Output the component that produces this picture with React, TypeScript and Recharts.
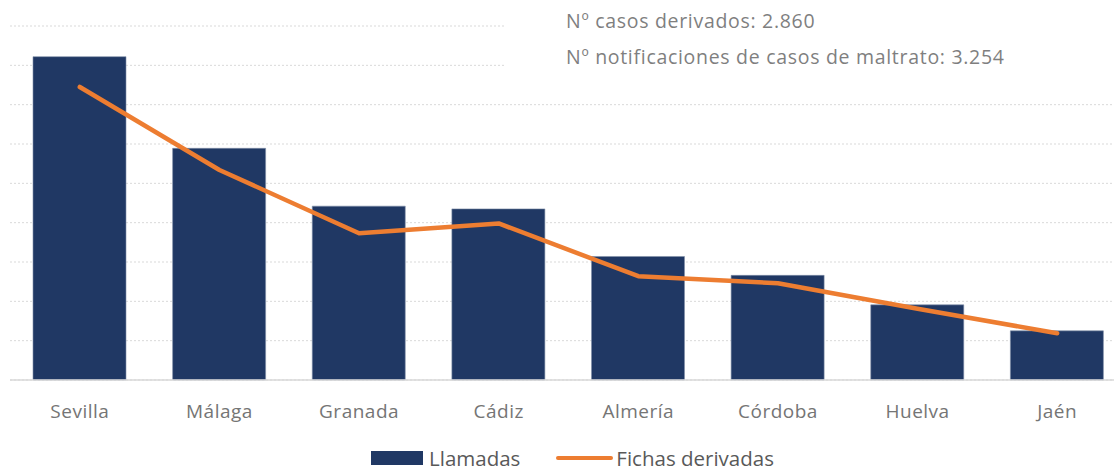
import React from 'react';
import { ComposedChart, Bar, Line, XAxis, YAxis, CartesianGrid } from 'recharts';

const provincias = ['Sevilla', 'Málaga', 'Granada', 'Cádiz', 'Almería', 'Córdoba', 'Huelva', 'Jaén'];
const llamadas = [822, 589, 442, 435, 314, 266, 191, 125];
const fichasDerivadas = [745, 534, 373, 398, 264, 246, 181, 119];
const yTicks = [0, 100, 200, 300, 400, 500, 600, 700, 800, 900];
const notas = ['Nº casos derivados: 2.860', 'Nº notificaciones de casos de maltrato: 3.254'];

const data = provincias.map((p, i) => ({ provincia: p, llamadas: llamadas[i], fichas: fichasDerivadas[i] }));

const FONT = '"Open Sans", "Noto Sans", sans-serif';

export default function App() {
  return (
    <div style={{ position: 'absolute', left: 0, top: 0, width: 1114, height: 473, overflow: 'hidden', background: '#fff' }}>
      <ComposedChart width={1130} height={473} data={data} margin={{ top: 26, right: 3, left: 10, bottom: 33 }}>
        <CartesianGrid vertical={false} stroke="#d9d9d9" strokeDasharray="2 2" />
        <XAxis
          dataKey="provincia"
          height={60}
          axisLine={{ stroke: '#d9d9d9', strokeWidth: 1.5 }}
          tickLine={false}
          tick={{ fill: '#757575', fontSize: 19, fontFamily: FONT, letterSpacing: 0.5 }}
          tickMargin={19}
        />
        <YAxis hide domain={[0, 900]} ticks={yTicks} />
        <Bar dataKey="llamadas" name="Llamadas" fill="#203864" stroke="#7f8fa8" strokeWidth={0.6} barSize={93} isAnimationActive={false} />
        <Line type="linear" dataKey="fichas" name="Fichas derivadas" stroke="#ED7D31" strokeWidth={4.5} dot={false} strokeLinecap="round" strokeLinejoin="round" isAnimationActive={false} />
      </ComposedChart>
      <div style={{ position: 'absolute', left: 505, top: 0, width: 620, height: 80, background: '#fff', fontFamily: FONT, fontSize: 19.5, letterSpacing: 0.7, color: '#7f7f7f', lineHeight: '36px', paddingLeft: 61, paddingTop: 3, boxSizing: 'border-box', whiteSpace: 'nowrap' }}>
        {notas.map((n) => (
          <div key={n}>{n}</div>
        ))}
      </div>
      <div style={{ position: 'absolute', left: 371, top: 446, display: 'flex', alignItems: 'center', fontFamily: FONT, fontSize: 20.5, color: '#595959', whiteSpace: 'nowrap', lineHeight: '24px' }}>
        <span style={{ display: 'inline-block', width: 52, height: 14, background: '#203864', marginRight: 6 }} />
        <span style={{ marginRight: 36 }}>Llamadas</span>
        <span style={{ display: 'inline-block', width: 57, height: 4, borderRadius: 2, background: '#ED7D31', marginRight: 3 }} />
        <span>Fichas derivadas</span>
      </div>
    </div>
  );
}
